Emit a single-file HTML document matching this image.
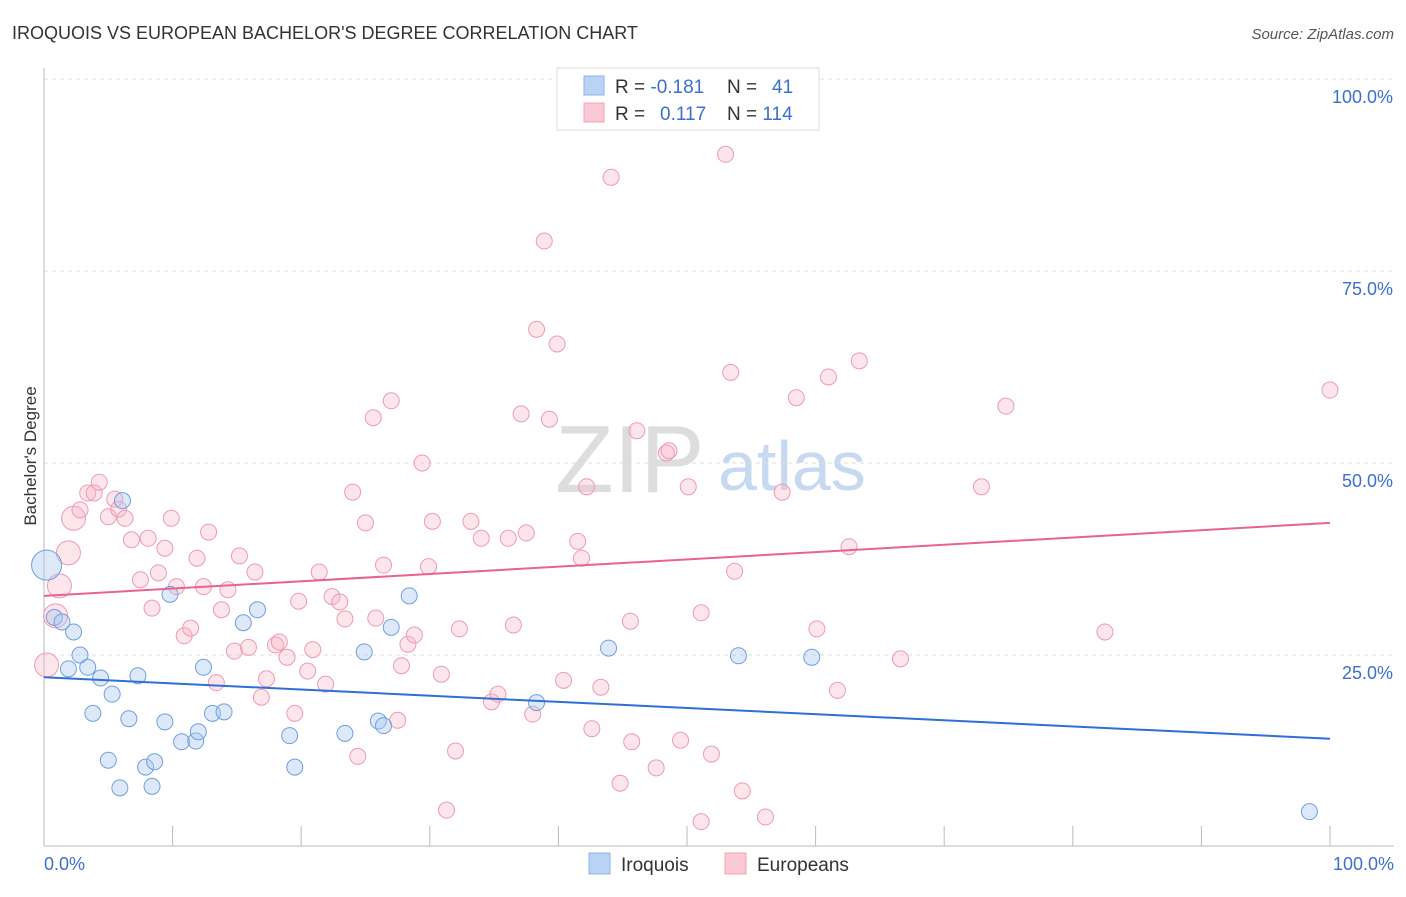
<!DOCTYPE html>
<html><head><meta charset="utf-8"><style>
body{margin:0;background:#fff;font-family:"Liberation Sans",sans-serif;}
svg text{font-family:"Liberation Sans",sans-serif;}
</style></head><body>
<svg id="chart" width="1406" height="892">
<text x="12" y="39" font-size="18" fill="#333">IROQUOIS VS EUROPEAN BACHELOR'S DEGREE CORRELATION CHART</text>
<text x="1394" y="39" font-size="15" fill="#555" font-style="italic" text-anchor="end">Source: ZipAtlas.com</text>
<text x="36" y="456" font-size="17" fill="#333" transform="rotate(-90 36 456)" text-anchor="middle">Bachelor's Degree</text>
<text x="555" y="492" font-size="96" fill="#ddd" font-family="Liberation Serif">ZIP</text>
<text x="718" y="490" font-size="70" fill="#c7d9f0">atlas</text>
<g id="grid"></g><g id="marks"></g>
<g>
<rect x="557" y="68" width="262" height="62" fill="#fff" stroke="#ddd"/>
<rect x="584" y="76" width="20" height="19" fill="#b9d3f5" stroke="#8fb3e6"/>
<rect x="584" y="103" width="20" height="19" fill="#fbc9d6" stroke="#f0a3b9"/>
<text x="615" y="93" font-size="19" fill="#333">R = <tspan fill="#3b6fd0">-0.181</tspan></text>
<text x="727" y="93" font-size="19" fill="#333">N = <tspan fill="#3b6fd0" x="772">41</tspan></text>
<text x="615" y="120" font-size="19" fill="#333">R = <tspan fill="#3b6fd0" x="660">0.117</tspan></text>
<text x="727" y="120" font-size="19" fill="#333">N = <tspan fill="#3b6fd0">114</tspan></text>
</g>
<g>
<rect x="589" y="853" width="21" height="21" fill="#b9d3f5" stroke="#8fb3e6"/>
<text x="621" y="871" font-size="19" fill="#333">Iroquois</text>
<rect x="725" y="853" width="21" height="21" fill="#fbc9d6" stroke="#f0a3b9"/>
<text x="757" y="871" font-size="19" fill="#333">Europeans</text>
</g>
</svg>
<script>
const yTicks=[25,50,75,100];
const blueX=[0.2,0.8,1.4,2.3,1.9,2.8,3.4,4.4,5.3,7.3,6.1,9.8,3.8,6.6,9.4,5.0,5.9,7.9,8.6,8.4,10.7,11.8,12.0,12.4,13.1,14.0,15.5,16.6,19.1,19.5,23.4,24.9,26.0,26.4,27.0,28.4,38.3,43.9,54.0,59.7,98.4];
const blueY=[36.7,29.9,29.3,28.0,23.2,25.0,23.4,22.0,19.9,22.3,45.1,32.9,17.4,16.7,16.3,11.3,7.7,10.4,11.1,7.9,13.7,13.8,15.0,23.4,17.4,17.6,29.2,30.9,14.5,10.4,14.8,25.4,16.4,15.8,28.6,32.7,18.8,25.9,24.9,24.7,4.6];
const pinkX=[0.2,0.9,1.2,1.9,2.3,2.8,3.4,3.9,4.3,5.0,5.5,5.8,6.3,6.8,7.5,8.1,8.4,8.9,9.4,9.9,10.3,10.9,11.4,11.9,12.4,12.8,13.4,13.8,14.3,14.8,15.2,15.9,16.4,16.9,17.3,18.0,18.3,18.9,19.5,19.8,20.5,20.9,21.4,21.9,22.4,23.0,23.4,24.0,24.4,25.0,25.6,25.8,26.4,27.0,27.5,27.8,28.3,28.8,29.4,29.9,30.2,30.9,31.3,32.0,32.3,33.2,34.0,34.8,35.3,36.1,36.5,37.1,37.5,38.0,38.3,38.9,39.3,39.9,40.4,41.5,41.8,42.2,42.6,43.3,44.1,44.8,45.6,45.7,46.1,47.6,48.4,48.6,49.5,50.1,51.1,51.1,51.9,53.0,53.4,53.7,54.3,56.1,57.4,58.5,60.1,61.0,61.7,62.6,63.4,66.6,72.9,74.8,82.5,100];
const pinkY=[23.7,30.1,34.0,38.3,42.8,43.9,46.1,46.1,47.5,43.0,45.3,44.0,42.8,40.0,34.8,40.2,31.1,35.7,38.9,42.8,33.9,27.5,28.5,37.6,33.9,41.0,21.4,30.9,33.5,25.5,37.9,26.0,35.8,19.5,21.9,26.3,26.7,24.7,17.4,32.0,22.9,25.7,35.8,21.2,32.6,31.9,29.7,46.2,11.8,42.2,55.9,29.8,36.7,58.1,16.5,23.6,26.4,27.6,50.0,36.5,42.4,22.5,4.8,12.5,28.4,42.4,40.2,18.9,19.9,40.2,28.9,56.4,40.9,17.3,67.4,78.9,55.7,65.5,21.7,39.8,37.6,46.9,15.4,20.8,87.2,8.3,29.4,13.7,54.2,10.3,51.3,51.6,13.9,46.9,3.3,30.5,12.1,90.2,61.8,35.9,7.3,3.9,46.2,58.5,28.4,61.2,20.4,39.1,63.3,24.5,46.9,57.4,28.0,59.5];
const blueTrend=[22.1,14.1];
const pinkTrend=[32.7,42.2];
const bigBlue=[0];const bigPink=[0,1,2,3,4];
const X=v=>44+v*12.86, Y=v=>847-v*7.68;
const NS='http://www.w3.org/2000/svg';
const grid=document.getElementById('grid'), marks=document.getElementById('marks');
function mk(tag,attrs,parent){const e=document.createElementNS(NS,tag);for(const k in attrs)e.setAttribute(k,attrs[k]);parent.appendChild(e);return e;}
yTicks.forEach(t=>{
 const l=mk('line',{x1:44,x2:1394,y1:Y(t),y2:Y(t),stroke:'#ddd','stroke-dasharray':'4,4'},grid);
 
 
 const tx=mk('text',{x:1393,y:Y(t)+24,'font-size':18,fill:'#3b6fd0','text-anchor':'end'},grid);
 tx.textContent=t.toFixed(1)+'%';
 
 
});
const ax=mk('line',{x1:44,x2:1394,y1:846,y2:846,stroke:'#bbb'},grid);


const ay=mk('line',{x1:44,x2:44,y1:68,y2:846,stroke:'#bbb'},grid);


for(let i=0;i<=10;i++){const t=mk('line',{x1:X(i*10),x2:X(i*10),y1:826,y2:846,stroke:'#bbb'},grid);
 
 }
[['0.0%',44,'start'],['100.0%',1394,'end']].forEach(([s,x,a])=>{const t=mk('text',{x:x,y:870,'font-size':18,fill:'#3b6fd0','text-anchor':a},grid);t.textContent=s;
 
 });
pinkX.forEach((v,i)=>{const c=mk('circle',{cx:X(v),cy:Y(pinkY[i]),r:bigPink.includes(i)?12:8,fill:'rgba(248,180,200,0.35)',stroke:'#ee9ab3','stroke-width':1},marks);
 
 });
blueX.forEach((v,i)=>{const c=mk('circle',{cx:X(v),cy:Y(blueY[i]),r:bigBlue.includes(i)?15:8,fill:'rgba(170,200,240,0.4)',stroke:'#6f9ee0','stroke-width':1},marks);
 
 });
const bl=mk('line',{x1:X(0),x2:X(100),y1:Y(blueTrend[0]),y2:Y(blueTrend[1]),stroke:'#2f6fd6','stroke-width':2},marks);


const pl=mk('line',{x1:X(0),x2:X(100),y1:Y(pinkTrend[0]),y2:Y(pinkTrend[1]),stroke:'#e8638e','stroke-width':2},marks);


</script>
</body></html>
